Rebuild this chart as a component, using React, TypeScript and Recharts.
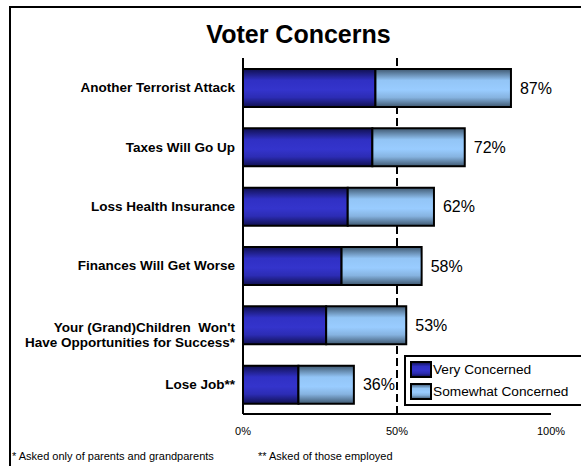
import React from "react";
import {
  BarChart,
  Bar,
  XAxis,
  YAxis,
  CartesianGrid,
  LabelList,
} from "recharts";

const categories = [
  "Another Terrorist Attack",
  "Taxes Will Go Up",
  "Loss Health Insurance",
  "Finances Will Get Worse",
  "Your (Grand)Children  Won't|Have Opportunities for Success*",
  "Lose Job**",
];
const veryConcerned = [43, 42, 34, 32, 27, 18];
const somewhatConcerned = [44, 30, 28, 26, 26, 18];
const totals = [87, 72, 62, 58, 53, 36];
const xTicks = [0, 50, 100];
const midLine = [50];
const seriesNames = ["Very Concerned", "Somewhat Concerned"];

const data = categories.map((name, i) => ({
  name,
  very: veryConcerned[i],
  somewhat: somewhatConcerned[i],
  total: totals[i],
}));

const FONT = "'Liberation Sans', Arial, sans-serif";

const CategoryTick = (props: any) => {
  const { x, y, payload } = props;
  const lines: string[] = String(payload.value).split("|");
  return (
    <text
      x={x}
      y={y}
      textAnchor="end"
      fontFamily={FONT}
      fontSize={13.5}
      fontWeight="bold"
      fill="#000"
      style={{ whiteSpace: "pre" }}
    >
      {lines.length === 1 ? (
        <tspan x={x} dy="0.35em">
          {lines[0]}
        </tspan>
      ) : (
        lines.map((l, i) => (
          <tspan key={i} x={x} dy={i === 0 ? "0.5em" : "1.1em"}>
            {l}
          </tspan>
        ))
      )}
    </text>
  );
};

const Grads = ({ prefix }: { prefix: string }) => (
  <defs>
    <linearGradient id={`${prefix}Very`} x1="0" y1="0" x2="0" y2="1">
      <stop offset="0%" stopColor="#101050" />
      <stop offset="30%" stopColor="#3030c4" />
      <stop offset="55%" stopColor="#3434cc" />
      <stop offset="75%" stopColor="#2c2cb4" />
      <stop offset="100%" stopColor="#101050" />
    </linearGradient>
    <linearGradient id={`${prefix}Some`} x1="0" y1="0" x2="0" y2="1">
      <stop offset="0%" stopColor="#3f5870" />
      <stop offset="30%" stopColor="#93c5f6" />
      <stop offset="55%" stopColor="#99ccff" />
      <stop offset="75%" stopColor="#86b3e0" />
      <stop offset="100%" stopColor="#3f5870" />
    </linearGradient>
  </defs>
);

const Swatch = ({ id }: { id: string }) => (
  <svg width={22} height={17} style={{ display: "block" }}>
    <Grads prefix={`sw${id}`} />
    <rect
      x={1}
      y={1}
      width={20}
      height={15}
      fill={`url(#sw${id}${id === "0" ? "Very" : "Some"})`}
      stroke="#000"
      strokeWidth={2}
    />
  </svg>
);

const LegendBox = () => (
  <div
    style={{
      position: "absolute",
      left: 404,
      top: 355,
      width: 200,
      height: 46,
      border: "2px solid #000",
      background: "#fff",
      padding: "1px 0 0 4px",
      fontFamily: FONT,
      fontSize: 13.7,
    }}
  >
    {seriesNames.map((n, i) => (
      <div key={n} style={{ display: "flex", alignItems: "center", height: 22 }}>
        <Swatch id={String(i)} />
        <span style={{ marginLeft: 1 }}>{n}</span>
      </div>
    ))}
  </div>
);

export default function App() {
  return (
    <div
      style={{
        position: "absolute",
        left: 0,
        top: 0,
        width: 581,
        height: 466,
        background: "#fff",
        overflow: "hidden",
        fontFamily: FONT,
      }}
    >
      <div
        style={{
          position: "absolute",
          left: 9,
          top: 6,
          width: 600,
          height: 500,
          border: "2px solid #000",
        }}
      />
      <div
        style={{
          position: "absolute",
          left: 8,
          width: 581,
          top: 20,
          textAlign: "center",
          fontSize: 25,
          fontWeight: "bold",
        }}
      >
        Voter Concerns
      </div>
      <div style={{ position: "absolute", left: 0, top: 0 }}>
        <BarChart
          width={581}
          height={466}
          data={data}
          layout="vertical"
          margin={{ top: 58, right: 30, bottom: 22, left: 0 }}
        >
          <Grads prefix="g" />
          <CartesianGrid
            horizontal={false}
            verticalValues={midLine}
            stroke="#000"
            strokeWidth={2}
            strokeDasharray="8 4"
          />
          <XAxis
            type="number"
            domain={[0, 100]}
            ticks={xTicks}
            tickFormatter={(v) => `${v}%`}
            tickLine={false}
            tickSize={0}
            tickMargin={13}
            axisLine={{ stroke: "#000", strokeWidth: 2 }}
            tick={{ fill: "#000", fontSize: 11, fontFamily: FONT }}
            height={30}
            interval={0}
          />
          <YAxis
            type="category"
            dataKey="name"
            width={243}
            tickLine={false}
            tickSize={0}
            tickMargin={8}
            axisLine={{ stroke: "#000", strokeWidth: 2 }}
            tick={<CategoryTick />}
            interval={0}
          />
          <Bar
            dataKey="very"
            name={seriesNames[0]}
            stackId="a"
            fill="url(#gVery)"
            stroke="#000"
            strokeWidth={2}
            barSize={38}
            isAnimationActive={false}
          />
          <Bar
            dataKey="somewhat"
            name={seriesNames[1]}
            stackId="a"
            fill="url(#gSome)"
            stroke="#000"
            strokeWidth={2}
            barSize={38}
            isAnimationActive={false}
          >
            <LabelList
              dataKey="total"
              position="right"
              offset={9}
              formatter={(v: any) => `${v}%`}
              fill="#000"
              fontSize={16}
              fontFamily={FONT}
            />
          </Bar>
        </BarChart>
      </div>
      <LegendBox />
      <div
        style={{
          position: "absolute",
          left: 12,
          top: 450,
          fontSize: 11,
          whiteSpace: "pre",
        }}
      >
        * Asked only of parents and grandparents
      </div>
      <div
        style={{
          position: "absolute",
          left: 258,
          top: 450,
          fontSize: 11,
          whiteSpace: "pre",
        }}
      >
        ** Asked of those employed
      </div>
    </div>
  );
}
